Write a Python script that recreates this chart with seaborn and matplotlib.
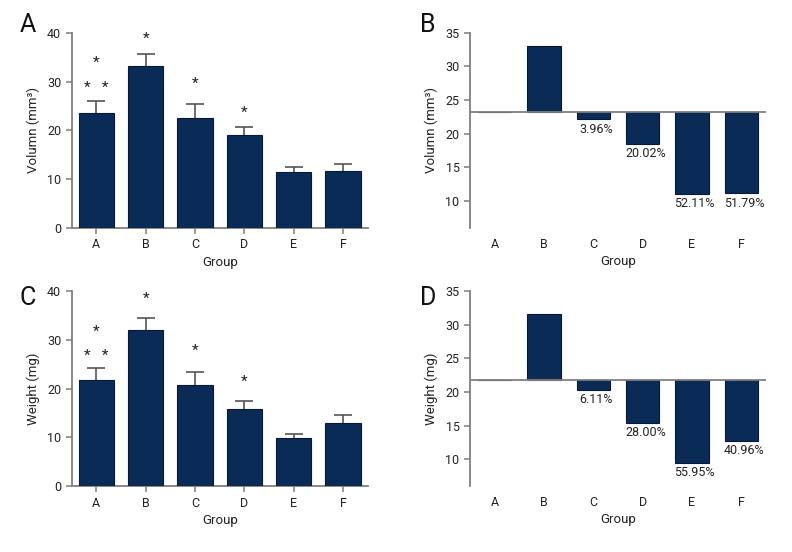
import numpy as np
import pandas as pd
import matplotlib
matplotlib.use("Agg")
import matplotlib.pyplot as plt
import seaborn as sns

# ---------------- data ----------------
groups = ["A", "B", "C", "D", "E", "F"]

volume_mean = [23.6, 33.3, 22.6, 19.0, 11.5, 11.6]
volume_err = [2.45, 2.3, 2.8, 1.6, 1.0, 1.5]
weight_mean = [21.8, 32.1, 20.7, 15.8, 9.9, 13.0]
weight_err = [2.4, 2.4, 2.8, 1.7, 0.9, 1.6]

volume_star_groups = ["A", "A", "B", "C", "D"]
volume_star_y = [34.5, 29.5, 39.4, 30.2, 24.4]
volume_star_text = ["*", "*   *", "*", "*", "*"]
weight_star_groups = ["A", "A", "B", "C", "D"]
weight_star_y = [32.3, 27.3, 39.2, 28.5, 22.2]
weight_star_text = ["*", "*   *", "*", "*", "*"]

volume_level = [23.25, 33.05, 22.15, 18.55, 11.05, 11.15]
volume_pct = ["", "", "3.96%", "20.02%", "52.11%", "51.79%"]
weight_level = [21.75, 31.65, 20.35, 15.45, 9.5, 12.75]
weight_pct = ["", "", "6.11%", "28.00%", "55.95%", "40.96%"]

# ---------------- style ----------------
sns.set_style("ticks")
plt.rcParams["font.family"] = ["Roboto", "DejaVu Sans"]
BAR = "#0b2b57"
EDGE = "#06193a"
GREY = "#7f7f7f"
TXT = "#222222"

fig = plt.figure(figsize=(7.92, 5.52), dpi=100)

W = 0.3737
H = 0.3535
pos = {
    "A": [0.0905, 0.587, W, H],
    "B": [0.5934, 0.587, W, H],
    "C": [0.0905, 0.1192, W, H],
    "D": [0.5934, 0.1192, W, H],
}


def style_axis(ax):
    for s in ["top", "right"]:
        ax.spines[s].set_visible(False)
    for s in ["left", "bottom"]:
        ax.spines[s].set_color(GREY)
        ax.spines[s].set_linewidth(1.3)
    ax.tick_params(axis="both", colors=GREY, labelcolor=TXT, labelsize=9,
                   length=4, width=1.1, direction="out")


def mean_panel(ax, means, errs, star_groups, star_y, star_text, ylabel):
    df = pd.DataFrame({"group": groups, "value": means})
    sns.barplot(data=df, x="group", y="value", color=BAR, edgecolor=EDGE,
                linewidth=0.8, width=0.72, errorbar=None, saturation=1,
                ax=ax, zorder=3)
    _, caps, _ = ax.errorbar(np.arange(len(groups)), means,
                             yerr=[np.zeros(len(errs)), errs], fmt="none",
                             ecolor="#555555", elinewidth=1.2, capsize=6.5,
                             capthick=1.2, zorder=2)
    for c in caps:
        if np.allclose(c.get_ydata(), means):
            c.set_visible(False)
    for g, y, t in zip(star_groups, star_y, star_text):
        ax.annotate(t, (groups.index(g), y), xytext=(0, -2.5),
                    textcoords="offset points", ha="center", va="center",
                    fontsize=11, color=TXT)
    ax.set_ylim(0, 40)
    ax.set_xlim(-0.5, 5.5)
    ax.set_yticks([0, 10, 20, 30, 40])
    style_axis(ax)
    ax.set_xlabel("Group", fontsize=9.5, color=TXT, labelpad=3)
    ax.set_ylabel(ylabel, fontsize=9.5, color=TXT, labelpad=5)


def change_panel(ax, levels, pcts, ylabel):
    base = levels[0]
    df = pd.DataFrame({"group": groups,
                       "delta": [v - base for v in levels]})
    sns.barplot(data=df, x="group", y="delta", bottom=base, color=BAR,
                edgecolor=EDGE, linewidth=0.8, width=0.68, errorbar=None,
                saturation=1, ax=ax, zorder=3)
    ax.axhline(base, color=GREY, lw=1.3, zorder=4)
    for i, (v, t) in enumerate(zip(levels, pcts)):
        if t:
            ax.annotate(t, (i, v), xytext=(2, -2.5), textcoords="offset points",
                        ha="center", va="top", fontsize=9, color=TXT)
    ax.set_ylim(6, 35)
    ax.set_xlim(-0.5, 5.5)
    ax.set_yticks([10, 15, 20, 25, 30, 35])
    style_axis(ax)
    ax.spines["bottom"].set_visible(False)
    ax.tick_params(axis="x", length=0, pad=7)
    ax.set_xlabel("Group", fontsize=9.5, color=TXT, labelpad=3)
    ax.set_ylabel(ylabel, fontsize=9.5, color=TXT, labelpad=5)


axA = fig.add_axes(pos["A"])
mean_panel(axA, volume_mean, volume_err, volume_star_groups, volume_star_y,
           volume_star_text, "Volumn (mm³)")
axB = fig.add_axes(pos["B"])
change_panel(axB, volume_level, volume_pct, "Volumn (mm³)")
axC = fig.add_axes(pos["C"])
mean_panel(axC, weight_mean, weight_err, weight_star_groups, weight_star_y,
           weight_star_text, "Weight (mg)")
axD = fig.add_axes(pos["D"])
change_panel(axD, weight_level, weight_pct, "Weight (mg)")

for letter, x, y in [("A", 28, 25), ("B", 428, 25), ("C", 28, 298), ("D", 428, 298)]:
    fig.text(x / 792, 1 - y / 552, letter, fontsize=18, ha="center",
             va="center", color="#111111")

fig.savefig("out.png", dpi=100)
